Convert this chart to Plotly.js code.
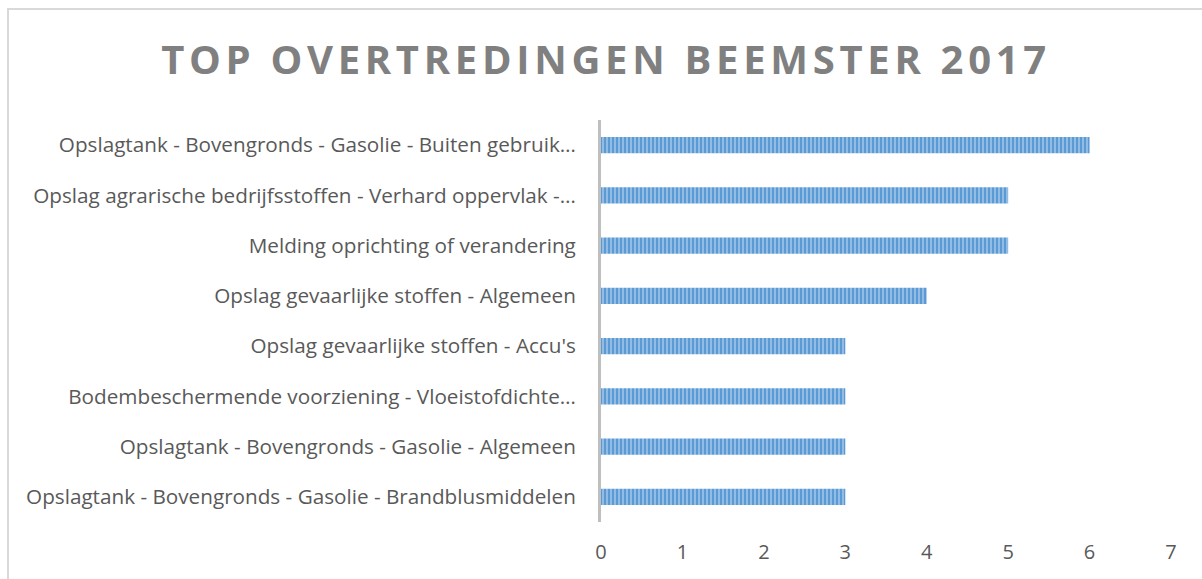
<!DOCTYPE html>
<html>
<head>
<meta charset="utf-8">
<script src="https://cdn.plot.ly/plotly-3.0.1.min.js"></script>
<style>
html,body{margin:0;padding:0;background:#fff;}
#chart{width:1202px;height:579px;}
#frame{position:absolute;left:7px;top:8px;width:1300px;height:700px;border-left:2px solid #d9d9d9;border-top:2px solid #d9d9d9;pointer-events:none;}
.gtitle{letter-spacing:4.7px;}
</style>
</head>
<body>
<div id="chart"></div>
<div id="frame"></div>
<script>
const categories = [
  "Opslagtank - Bovengronds - Gasolie - Buiten gebruik…",
  "Opslag agrarische bedrijfsstoffen - Verhard oppervlak -…",
  "Melding oprichting of verandering",
  "Opslag gevaarlijke stoffen - Algemeen",
  "Opslag gevaarlijke stoffen - Accu's",
  "Bodembeschermende voorziening - Vloeistofdichte…",
  "Opslagtank - Bovengronds - Gasolie - Algemeen",
  "Opslagtank - Bovengronds - Gasolie - Brandblusmiddelen"
];
const counts = [6, 5, 5, 4, 3, 3, 3, 3];
const xTicks = [0, 1, 2, 3, 4, 5, 6, 7];
const chartTitle = "TOP OVERTREDINGEN BEEMSTER 2017";

const trace = {
  type: "bar",
  orientation: "h",
  y: categories,
  x: counts,
  marker: {
    color: "#5B9BD5",
    line: {width: 0},
    pattern: {shape: "|", bgcolor: "#5B9BD5", fgcolor: "#A9CBEB", size: 4, solidity: 0.35}
  },
  hoverinfo: "none"
};

const layout = {
  width: 1202,
  height: 579,
  paper_bgcolor: "#ffffff",
  plot_bgcolor: "#ffffff",
  margin: {l: 601, r: 31, t: 120, b: 57},
  bargap: 0.68,
  showlegend: false,
  title: {
    text: chartTitle,
    font: {family: "Open Sans", size: 40, color: "#808080", weight: 700},
    x: 606/1202, xanchor: "center", xref: "container",
    y: 1 - 60/579, yanchor: "middle", yref: "container"
  },
  xaxis: {
    range: [0, 7],
    tickvals: xTicks,
    ticktext: xTicks.map(String),
    showgrid: false,
    zeroline: false,
    showline: false,
    ticks: "outside", ticklen: 12, tickcolor: "rgba(0,0,0,0)",
    tickfont: {family: "Open Sans", size: 20, color: "#595959"},
    fixedrange: true
  },
  yaxis: {
    autorange: "reversed",
    showgrid: false,
    zeroline: false,
    showline: true, linecolor: "#bfbfbf", linewidth: 3,
    ticks: "outside", ticklen: 18, tickcolor: "rgba(0,0,0,0)",
    tickfont: {family: "Open Sans", size: 20.7, color: "#595959"},
    fixedrange: true
  }
};

Plotly.newPlot("chart", [trace], layout, {displayModeBar: false, staticPlot: true});
</script>
</body>
</html>
